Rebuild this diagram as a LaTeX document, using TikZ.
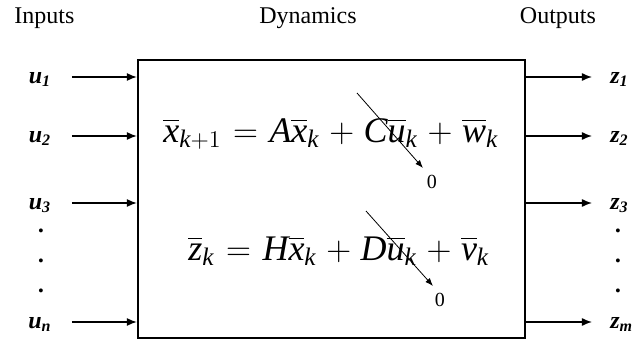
\documentclass[tikz,border=0pt]{standalone}
\usepackage{amsmath}
\usepackage{fontspec}
\setmainfont{Liberation Serif}
\usetikzlibrary{arrows.meta}
\newcommand{\wideops}{\medmuskip=5mu\relax\thickmuskip=6mu\relax}

\begin{document}
\begin{tikzpicture}[x=0.5pt, y=-0.5pt, font=\fontsize{12}{14}\selectfont,
  flow/.style={-{Latex[length=5pt,width=4pt]}, line width=0.7pt},
  sig/.style={anchor=base, inner sep=0pt, font=\fontsize{12}{14}\selectfont\bfseries\itshape},
  eq/.style={anchor=base west, inner sep=0pt, font=\fontsize{18}{21}\selectfont},
  kill/.style={-{Latex[length=4pt,width=3pt]}, line width=0.4pt}]
\useasboundingbox (0,0) rectangle (634,343);

\node[anchor=base west, inner sep=0pt] (inputs) at (14,23) {Inputs};
\node[anchor=base, inner sep=0pt] (dynamics) at (308,23) {Dynamics};
\node[anchor=base, inner sep=0pt] (outputs) at (558,23) {Outputs};

\node[draw, line width=1.1pt, minimum width=193.5pt, minimum height=139pt] (box) at (331.5,199) {};

% inputs
\foreach \i/\y in {1/77, 2/136, 3/203, n/322}{
  \node[sig] (u\i) at (40,\y+6) {u$_{\text{\i}}$};
  \coordinate (in\i) at (72,\y);
  \draw[flow] (in\i) -- (in\i -| box.west);
}
\foreach \y in {232,262,292}
  \node[sig] at (42,\y) {.};

% outputs
\foreach \i/\y in {1/77, 2/136, 3/203, m/322}{
  \node[sig, anchor=base west] (z\i) at (610,\y+6) {z$_{\text{\i}}$};
  \coordinate (out\i) at (592,\y);
  \draw[flow] (out\i -| box.east) -- (out\i);
}
\foreach \y in {232,262,292}
  \node[sig] at (619,\y) {.};

% dynamics
\node[eq] (state) at (163,142) {$\wideops\overline{\textit{x}}_{\textit{k}+1} = \textit{A}\overline{\textit{x}}_{\textit{k}} + \textit{C}\overline{\textit{u}}_{\textit{k}} + \overline{\textit{w}}_{\textit{k}}$};
\node[eq] (meas) at (188,260) {$\wideops\overline{\textit{z}}_{\textit{k}} = \textit{H}\overline{\textit{x}}_{\textit{k}} + \textit{D}\overline{\textit{u}}_{\textit{k}} + \overline{\textit{v}}_{\textit{k}}$};

\coordinate (c1s) at (357,93);
\coordinate (c1e) at (423,168);
\node[font=\fontsize{10}{12}\selectfont, inner sep=0pt] (zero1) at (432,182) {0};
\draw[kill] (c1s) -- (c1e);

\coordinate (c2s) at (366,211);
\coordinate (c2e) at (433,286);
\node[font=\fontsize{10}{12}\selectfont, inner sep=0pt] (zero2) at (440,300) {0};
\draw[kill] (c2s) -- (c2e);
\end{tikzpicture}
\end{document}
